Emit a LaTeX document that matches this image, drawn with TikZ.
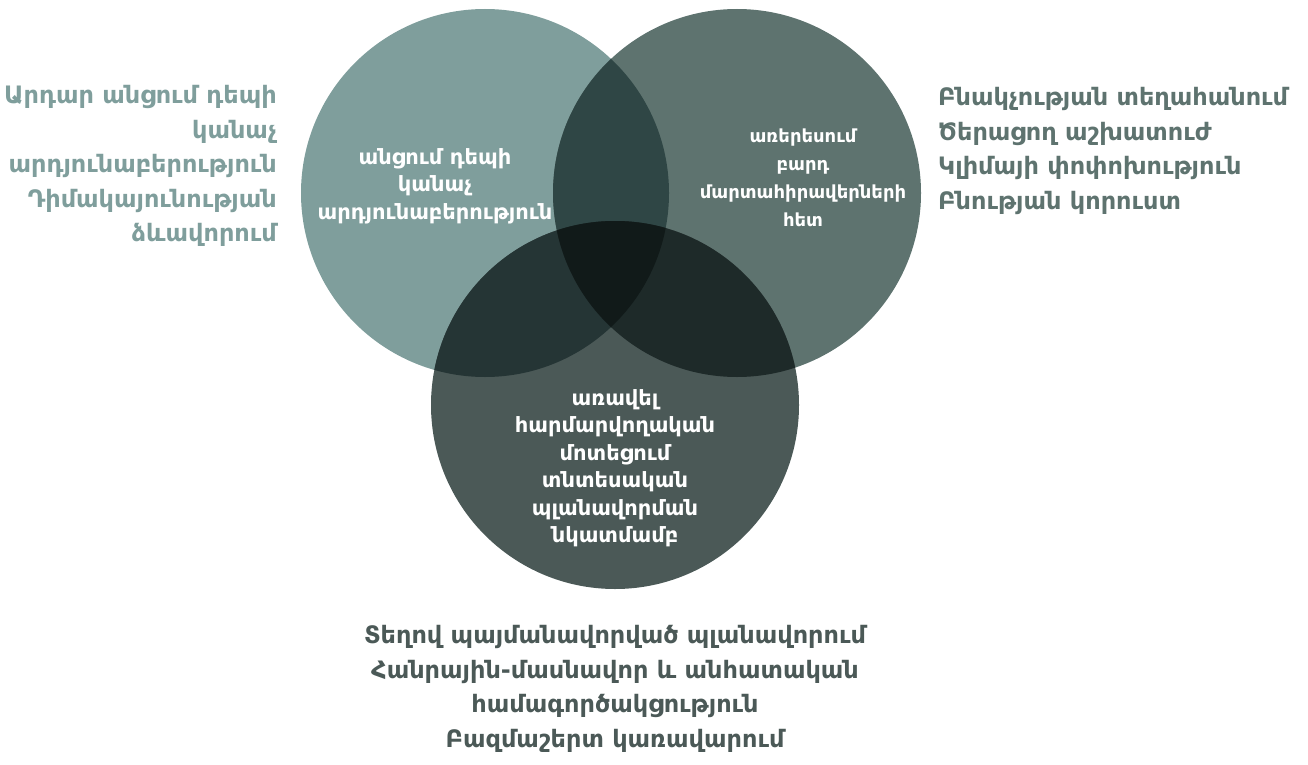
\documentclass[tikz,border=0pt]{standalone}
\usepackage{fontspec}
\setmainfont{DejaVu Sans}
\definecolor{cA}{HTML}{7F9E9C}
\definecolor{cB}{HTML}{5E736F}
\definecolor{cC}{HTML}{4B5957}
\definecolor{cAB}{HTML}{2F4645}
\definecolor{cAC}{HTML}{253535}
\definecolor{cBC}{HTML}{1E2A29}
\definecolor{cABC}{HTML}{111A19}
\tikzset{
  outer/.style={inner sep=0pt, font=\bfseries\fontsize{24}{34.5}\selectfont},
  inner/.style={inner sep=0pt, text=white, align=center, font=\bfseries\fontsize{21}{27.5}\selectfont},
  innersmall/.style={inner, font=\bfseries\fontsize{18}{28}\selectfont}
}
\begin{document}
\begin{tikzpicture}[x=1pt,y=-1pt]
\useasboundingbox (0,0) rectangle (1308,765);
\coordinate (A) at (485,193);
\coordinate (B) at (737,193);
\coordinate (C) at (615,405);
\def\R{184pt}
\fill[cA] (A) circle[radius=\R];
\fill[cB] (B) circle[radius=\R];
\fill[cC] (C) circle[radius=\R];
\begin{scope}
  \clip (A) circle[radius=\R];
  \fill[cAB] (B) circle[radius=\R];
  \fill[cAC] (C) circle[radius=\R];
\end{scope}
\begin{scope}
  \clip (B) circle[radius=\R];
  \fill[cBC] (C) circle[radius=\R];
\end{scope}
\begin{scope}
  \clip (A) circle[radius=\R];
  \clip (B) circle[radius=\R];
  \fill[cABC] (C) circle[radius=\R];
\end{scope}
\node[inner] (tA) at (435,186) {անցում դեպի\\կանաչ\\արդյունաբերություն};
\node[innersmall] (tB) at (803,178) {առերեսում\\բարդ\\մարտահիրավերների\\հետ};
\node[inner] (tC) at (615,468) {առավել\\հարմարվողական\\մոտեցում\\տնտեսական\\պլանավորման\\նկատմամբ};
\node[outer, text=cA, align=right, anchor=east] (lA) at (277,166) {Արդար անցում դեպի\\կանաչ\\արդյունաբերություն\\Դիմակայունության\\ձևավորում};
\node[outer, text=cB, align=left, anchor=west] (lB) at (938,151) {Բնակչության տեղահանում\\Ծերացող աշխատուժ\\Կլիմայի փոփոխություն\\Բնության կորուստ};
\node[outer, text=cC, align=center] (lC) at (615,689) {Տեղով պայմանավորված պլանավորում\\Հանրային-մասնավոր և անհատական\\համագործակցություն\\Բազմաշերտ կառավարում};
\end{tikzpicture}
\end{document}
